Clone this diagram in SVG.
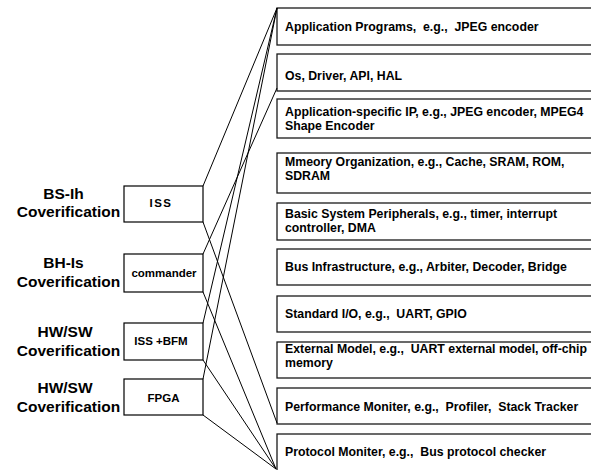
<svg xmlns="http://www.w3.org/2000/svg" width="591" height="470" viewBox="0 0 591 470">
  <style>
    .box { fill: #ffffff; stroke: #000000; stroke-width: 1.2; }
    .layer { fill: #ffffff; stroke: #1a1a1a; stroke-width: 1.3; }
    .wire { fill: none; stroke: #000000; stroke-width: 1; }
    .t { font-family: "Liberation Sans", Arial, sans-serif; font-weight: bold; fill: #000000; white-space: pre; }
    .lbl { font-size: 15.5px; text-anchor: middle; }
    .bx { font-size: 11.5px; text-anchor: middle; }
    .ly { font-size: 12.3px; }
  </style>
  <rect width="591" height="470" fill="#ffffff"/>

  <!-- layer stack on the right -->
  <g id="layer-app">
    <rect class="layer" x="277" y="8" width="330" height="37"/>
    <text class="t ly" x="285" y="31" xml:space="preserve">Application Programs,  e.g.,  JPEG encoder</text>
  </g>
  <g id="layer-os">
    <rect class="layer" x="277" y="54" width="330" height="37"/>
    <text class="t ly" x="285" y="80">Os, Driver, API, HAL</text>
  </g>
  <g id="layer-ip">
    <rect class="layer" x="277" y="99" width="330" height="39"/>
    <text class="t ly" x="285" y="116">Application-specific IP, e.g., JPEG encoder, MPEG4</text>
    <text class="t ly" x="285" y="130">Shape Encoder</text>
  </g>
  <g id="layer-mem">
    <rect class="layer" x="277" y="153" width="330" height="40"/>
    <text class="t ly" x="285" y="166">Mmeory Organization, e.g., Cache, SRAM, ROM,</text>
    <text class="t ly" x="285" y="180">SDRAM</text>
  </g>
  <g id="layer-periph">
    <rect class="layer" x="277" y="203" width="330" height="37"/>
    <text class="t ly" x="285" y="218">Basic System Peripherals, e.g., timer, interrupt</text>
    <text class="t ly" x="285" y="232">controller, DMA</text>
  </g>
  <g id="layer-bus">
    <rect class="layer" x="277" y="249" width="330" height="36"/>
    <text class="t ly" x="285" y="271">Bus Infrastructure, e.g., Arbiter, Decoder, Bridge</text>
  </g>
  <g id="layer-io">
    <rect class="layer" x="277" y="296" width="330" height="36"/>
    <text class="t ly" x="285" y="318" xml:space="preserve">Standard I/O, e.g.,  UART, GPIO</text>
  </g>
  <g id="layer-ext">
    <rect class="layer" x="277" y="342" width="330" height="36"/>
    <text class="t ly" x="285" y="353" xml:space="preserve">External Model, e.g.,  UART external model, off-chip</text>
    <text class="t ly" x="285" y="367">memory</text>
  </g>
  <g id="layer-perf">
    <rect class="layer" x="277" y="388" width="330" height="36"/>
    <text class="t ly" x="285" y="411" xml:space="preserve">Performance Moniter, e.g.,  Profiler,  Stack Tracker</text>
  </g>
  <g id="layer-proto">
    <rect class="layer" x="277" y="434" width="330" height="50"/>
    <text class="t ly" x="285" y="456" xml:space="preserve">Protocol Moniter, e.g.,  Bus protocol checker</text>
  </g>

  <!-- verification methods on the left -->
  <g id="method-iss">
    <text class="t lbl" x="63.5" y="199">BS-Ih</text>
    <text class="t lbl" x="68.5" y="217">Coverification</text>
    <rect class="box" x="124" y="186" width="79" height="36"/>
    <text class="t bx" x="161" y="207" letter-spacing="1.5">ISS</text>
  </g>
  <g id="method-commander">
    <text class="t lbl" x="63.5" y="268">BH-Is</text>
    <text class="t lbl" x="68.5" y="287">Coverification</text>
    <rect class="box" x="124" y="254" width="79" height="38"/>
    <text class="t bx" x="164" y="277">commander</text>
  </g>
  <g id="method-bfm">
    <text class="t lbl" x="65" y="337">HW/SW</text>
    <text class="t lbl" x="68.5" y="356">Coverification</text>
    <rect class="box" x="124" y="323" width="79" height="37"/>
    <text class="t bx" x="161" y="345">ISS +BFM</text>
  </g>
  <g id="method-fpga">
    <text class="t lbl" x="65" y="393">HW/SW</text>
    <text class="t lbl" x="68.5" y="412">Coverification</text>
    <rect class="box" x="124" y="379" width="79" height="36"/>
    <text class="t bx" x="163.5" y="402">FPGA</text>
  </g>

  <!-- coverage spans: each method to the range of layers it covers -->
  <g id="connectors">
    <line class="wire" x1="203" y1="186" x2="277" y2="8"/>
    <line class="wire" x1="203" y1="323" x2="277" y2="8"/>
    <line class="wire" x1="203" y1="379" x2="277" y2="8"/>
    <line class="wire" x1="203" y1="254" x2="277" y2="88"/>
    <line class="wire" x1="203" y1="222" x2="277" y2="423"/>
    <line class="wire" x1="203" y1="292" x2="276" y2="469"/>
    <line class="wire" x1="203" y1="360" x2="276" y2="469"/>
    <line class="wire" x1="203" y1="415" x2="276" y2="469"/>
  </g>
</svg>
